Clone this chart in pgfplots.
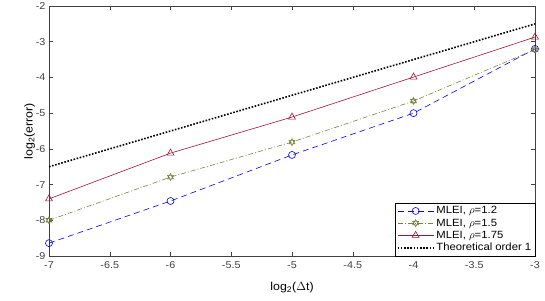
\documentclass[border=0pt]{standalone}
\usepackage{pgfplots}
\pgfplotsset{compat=1.18}
\usepackage{fontspec}
\setmainfont{Liberation Sans}[FakeStretch=1.08]
\definecolor{mblue}{RGB}{0,0,255}
\definecolor{mgreen}{RGB}{118,130,62}
\definecolor{mred}{RGB}{162,20,47}
\pgfdeclareplotmark{hexagram}{%
  \pgfpathmoveto{\pgfqpointpolar{90}{\pgfplotmarksize}}%
  \pgfpathlineto{\pgfqpointpolar{210}{\pgfplotmarksize}}%
  \pgfpathlineto{\pgfqpointpolar{330}{\pgfplotmarksize}}%
  \pgfpathclose
  \pgfpathmoveto{\pgfqpointpolar{270}{\pgfplotmarksize}}%
  \pgfpathlineto{\pgfqpointpolar{30}{\pgfplotmarksize}}%
  \pgfpathlineto{\pgfqpointpolar{150}{\pgfplotmarksize}}%
  \pgfpathclose
  \pgfusepathqstroke}
\begin{document}
\begin{tikzpicture}[x=1bp,y=1bp]
\path[use as bounding box] (-49,-44) rectangle (496,256);
\begin{axis}[
  at={(0,0)}, anchor=south west,
  scale only axis, width=486bp, height=250bp,
  xmin=-7, xmax=-3, ymin=-9, ymax=-2,
  xtick={-7,-6.5,...,-3}, ytick={-9,...,-2},
  tick align=inside, major tick length=4bp,
  tick style={black!75, line width=0.5pt},
  axis line style={black!75, line width=0.5pt},
  ticklabel style={font=\fontsize{10}{11}\selectfont, text=black!75},
  /pgf/number format/assume math mode=true,
  /pgf/number format/.cd, fixed, /pgfplots/.cd,
  xticklabel style={yshift=-2bp},
  label style={font=\fontsize{11.5}{13}\selectfont},
  xlabel={log\textsubscript{2}($\Delta$t)},
  ylabel={log\textsubscript{2}(error)},
  xlabel style={yshift=-7bp},
  ylabel style={yshift=-6bp},
  legend style={at={(1,0)}, anchor=south east, font=\fontsize{10.5}{11}\selectfont,
    draw=black, line width=0.5pt, inner sep=1.5bp, row sep=-0.5bp, cells={anchor=west}},
  legend cell align=left,
  legend image code/.code={\draw[mark repeat=2,mark phase=2] plot coordinates {(0bp,0bp) (18bp,0bp) (36bp,0bp)};},
]
\addplot[mblue, dash pattern=on 6bp off 4bp, line width=0.6pt, mark=o, mark size=3.5bp, mark options={solid}]
  coordinates {(-7,-8.64) (-6,-7.46) (-5,-6.17) (-4,-5.00) (-3,-3.20)};
\addlegendentry{MLEI, $\rho$=1.2}
\addplot[mgreen, dash pattern=on 5bp off 2bp on 1bp off 2bp, line width=0.6pt, mark=hexagram, mark size=3.5bp, mark options={solid}]
  coordinates {(-7,-8.00) (-6,-6.79) (-5,-5.81) (-4,-4.66) (-3,-3.22)};
\addlegendentry{MLEI, $\rho$=1.5}
\addplot[mred, solid, line width=0.6pt, mark=triangle, mark size=4bp]
  coordinates {(-7,-7.40) (-6,-6.12) (-5,-5.11) (-4,-3.99) (-3,-2.87)};
\addlegendentry{MLEI, $\rho$=1.75}
\addplot[black, dash pattern=on 1.6bp off 1.6bp, line width=1.6pt]
  coordinates {(-7,-6.5) (-3,-2.5)};
\addlegendentry{Theoretical order 1}
\end{axis}
\end{tikzpicture}
\end{document}
